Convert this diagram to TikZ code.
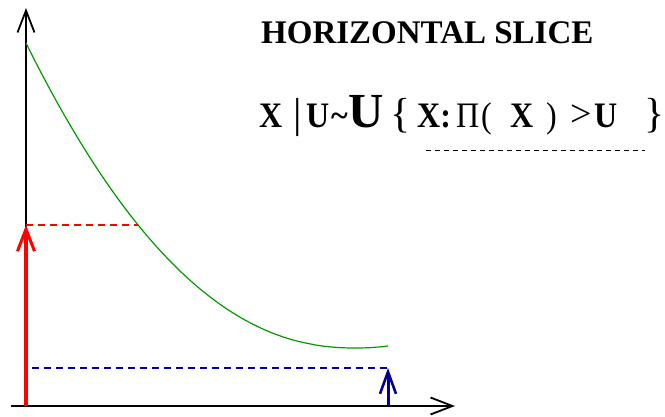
\documentclass[tikz,border=0pt]{standalone}
\usepackage{fontspec}
\setmainfont{Liberation Serif}
\usetikzlibrary{arrows.meta,calc}
\definecolor{curvegreen}{HTML}{009900}
\definecolor{slicered}{HTML}{FF0000}
\definecolor{sliceblue}{HTML}{000099}
\newcommand{\tallish}[1]{\scalebox{1}[1.12]{#1}}
\tikzset{
  axisline/.style={black, line width=1.6pt, -{Straight Barb[length=22pt,width=17pt,line width=1.8pt]}},
  density/.style={curvegreen, line width=1.2pt},
  levelred/.style={slicered, line width=3.8pt, -{Straight Barb[length=22pt,width=17pt,line width=3pt]}},
  levelblue/.style={sliceblue, line width=3pt, -{Straight Barb[length=22pt,width=16pt,line width=2.6pt]}},
  guidered/.style={slicered, dash pattern=on 7pt off 5pt, line width=1.1pt},
  guideblue/.style={sliceblue, dash pattern=on 7pt off 5pt, line width=1.1pt},
  guideblack/.style={black, dash pattern=on 5pt off 4pt, line width=0.8pt},
  titlenode/.style={inner sep=0pt, anchor=base west, font=\fontsize{33}{36}\selectfont\bfseries},
  formula/.style={inner sep=0pt, anchor=base west, font=\fontsize{32}{35}\selectfont\bfseries},
  formulathin/.style={inner sep=0pt, anchor=base west, font=\fontsize{32}{35}\selectfont}
}
\begin{document}
\begin{tikzpicture}[x=1pt, y=-1pt]
  \useasboundingbox (0,0) rectangle (665,417);
  % axes
  \coordinate (O) at (26,406);
  \draw[axisline] (11,406) -- (455,406);
  \draw[axisline] (26,406) -- (26,8);
  % target density
  \draw[density] plot[domain=26:388, samples=120] (\x, {348-305*pow(abs(355-\x)/329,2.18)});
  % slice levels
  \coordinate (R) at (26,225);
  \coordinate (Rc) at (138,225);
  \coordinate (B) at (388,368);
  \coordinate (Bl) at (32,368);
  \draw[guidered] (R) -- (Rc);
  \draw[levelred] (O) -- (R);
  \draw[guideblue] (Bl) -- (B);
  \draw[levelblue] (388,406) -- (B);
  % text
  \node[titlenode] (title) at (261,44) {HORIZONTAL SLICE};
  \foreach \px/\txt in {259/X, 306/U, 417/X:, 510/X, 594/U}
    \node[formula] (f\px) at (\px,128) {\tallish{\txt}};
  \node[formulathin, font=\fontsize{42}{46}\selectfont] (fbar) at (293,128) {|};
  \node[formula] (ftilde) at (331,127) {\char`\~};
  \node[formula, font=\fontsize{49}{52}\selectfont\bfseries] (fbig) at (348,128) {U};
  \node[formulathin, font=\fontsize{42}{46}\selectfont] (fopen) at (390,128) {\{};
  \node[formulathin] (fpi) at (456,128) {\tallish{Π}};
  \node[formulathin] (flp) at (481,128) {\tallish{(}};
  \node[formulathin] (frp) at (546,128) {\tallish{)}};
  \node[formulathin, font=\fontsize{38}{40}\selectfont] (fgt) at (570,127) {>};
  \node[formulathin, font=\fontsize{42}{46}\selectfont] (fclose) at (644,128) {\}};
  \coordinate (u1) at (426,150);
  \coordinate (u2) at (645,150);
  \draw[guideblack] (u1) -- (u2);
\end{tikzpicture}
\end{document}
